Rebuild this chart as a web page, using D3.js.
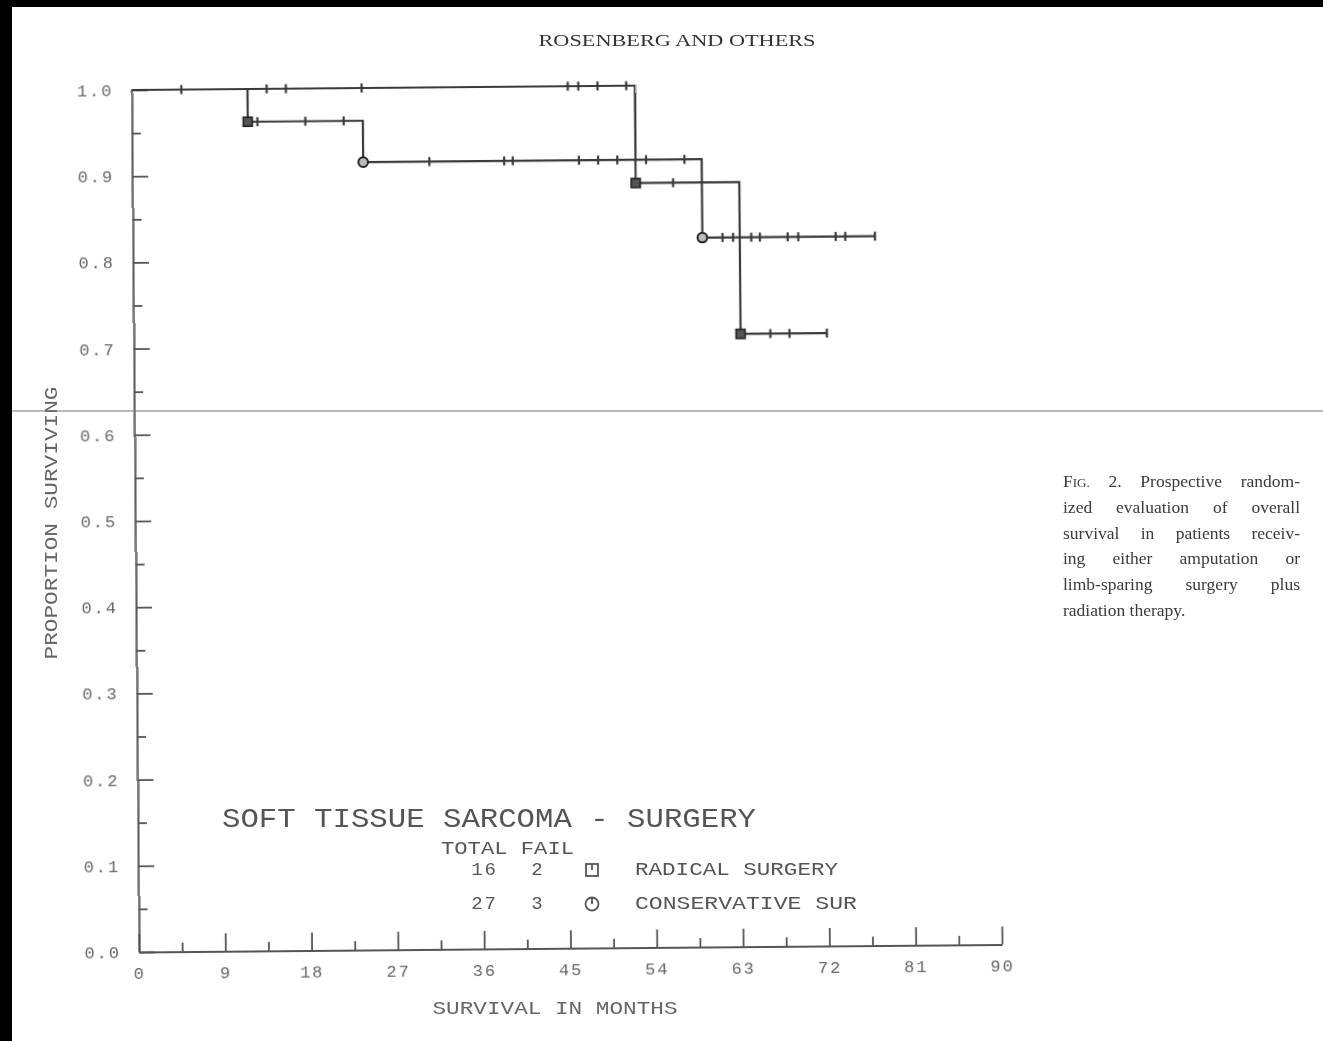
<!DOCTYPE html>
<html>
<head>
<meta charset="utf-8">
<script src="https://cdn.jsdelivr.net/npm/d3@7"></script>
<style>
  html, body { margin: 0; padding: 0; background: #fff; }
  svg { display: block; }
</style>
</head>
<body>
<svg id="fig" width="1323" height="1041"></svg>
<script>
// Overall survival, soft tissue sarcoma: radical vs conservative surgery (Kaplan-Meier)

const xTickMonths = [0, 9, 18, 27, 36, 45, 54, 63, 72, 81, 90];
const xMinorMonths = [4.5, 13.5, 22.5, 31.5, 40.5, 49.5, 58.5, 67.5, 76.5, 85.5];
const yTickValues = [0, 0.1, 0.2, 0.3, 0.4, 0.5, 0.6, 0.7, 0.8, 0.9, 1.0];
const yMinorValues = [0.05, 0.15, 0.25, 0.35, 0.45, 0.55, 0.65, 0.75, 0.85, 0.95];

// Radical surgery (16 patients, 2 failures)
const radicalEventMonths = [52.5, 63.3];
const radicalSurvival = [1.0, 0.887, 0.711];
const radicalLastMonth = 72.3;
const radicalCensoredMonths = [5.2, 14.1, 16.1, 24.0, 45.5, 46.6, 48.6, 51.6, 56.4, 66.4, 68.4, 72.3];

// Conservative surgery + radiation (27 patients, 3 failures)
const conservativeEventMonths = [12.1, 24.1, 59.4];
const conservativeSurvival = [1.0, 0.962, 0.914, 0.823];
const conservativeLastMonth = 77.4;
const conservativeCensoredMonths = [13.1, 18.1, 22.1, 31.0, 38.8, 39.7, 46.6, 48.6, 50.6, 53.6, 57.6,
  61.5, 62.6, 64.5, 65.4, 68.3, 69.4, 73.3, 74.3, 77.4];
const conservativeEventMarks = ["square", "circle", "circle"];

const chartTitle = "SOFT TISSUE SARCOMA - SURGERY";
const legendHeader = "TOTAL FAIL";
const legendTotals = [16, 27];
const legendFails = [2, 3];
const legendSymbols = ["square", "circle"];
const legendNames = ["RADICAL SURGERY", "CONSERVATIVE SUR"];
const xAxisTitle = "SURVIVAL IN MONTHS";
const yAxisTitle = "PROPORTION SURVIVING";

const pageHeader = "ROSENBERG AND OTHERS";
const captionLines = [
  "FIG. 2. Prospective random-",
  "ized evaluation of overall",
  "survival in patients receiv-",
  "ing either amputation or",
  "limb-sparing surgery plus",
  "radiation therapy."
];

// ---------------------------------------------------------------
const svg = d3.select("#fig");
const ink = "#3a3a3a";
const plotFont = "'Liberation Mono', 'DejaVu Sans Mono', monospace";
const serif = "'Liberation Serif', 'DejaVu Serif', serif";

svg.append("rect").attr("width", 1323).attr("height", 1041).attr("fill", "#fff");

const defs = svg.append("defs");
defs.append("filter").attr("id", "soft")
  .append("feGaussianBlur").attr("stdDeviation", 0.45);

const page = svg.append("g").attr("filter", "url(#soft)");

// plot area, slightly skewed on the page
const plot = page.append("g")
  .attr("transform", "rotate(-0.5,139,952) translate(139,90)");

const x = d3.scaleLinear().domain([0, 90]).range([0, 863]);
const y = d3.scaleLinear().domain([0, 1]).range([862, 0]);

function styleAxis(g) {
  g.select(".domain").attr("stroke", "#555").attr("stroke-width", 2);
  g.selectAll(".tick line").attr("stroke", "#555").attr("stroke-width", 1.8);
  g.selectAll(".tick text")
    .attr("fill", "#666")
    .style("font-family", plotFont)
    .style("font-size", "17px")
    .style("letter-spacing", "2px");
}

// x axis: major and minor ticks pointing up
plot.append("g")
  .attr("transform", `translate(0,${y(0)})`)
  .call(d3.axisBottom(x).tickValues(xTickMonths).tickSize(-18).tickSizeOuter(0)
    .tickPadding(15).tickFormat(d3.format("d")))
  .call(styleAxis);
plot.append("g")
  .attr("transform", `translate(0,${y(0)})`)
  .call(d3.axisBottom(x).tickValues(xMinorMonths).tickSize(-9).tickSizeOuter(0).tickFormat(""))
  .call(g => g.select(".domain").remove())
  .call(styleAxis);

// y axis: major and minor ticks pointing right
plot.append("g")
  .call(d3.axisLeft(y).tickValues(yTickValues).tickSize(-16).tickSizeOuter(0)
    .tickPadding(18).tickFormat(d3.format(".1f")))
  .call(styleAxis);
plot.append("g")
  .call(d3.axisLeft(y).tickValues(yMinorValues).tickSize(-9).tickSizeOuter(0).tickFormat(""))
  .call(g => g.select(".domain").remove())
  .call(styleAxis);

// step curves
function stepPoints(events, surv, last) {
  const pts = [[0, surv[0]]];
  events.forEach((t, i) => pts.push([t, surv[i + 1]]));
  pts.push([last, surv[surv.length - 1]]);
  return pts;
}
function survivalAt(events, surv, t) {
  return surv[d3.bisectRight(events, t)];
}
const line = d3.line().x(d => x(d[0])).y(d => y(d[1])).curve(d3.curveStepAfter);

const groups = [
  { events: radicalEventMonths, surv: radicalSurvival, last: radicalLastMonth,
    cens: radicalCensoredMonths, marks: radicalEventMonths.map(() => "square") },
  { events: conservativeEventMonths, surv: conservativeSurvival, last: conservativeLastMonth,
    cens: conservativeCensoredMonths, marks: conservativeEventMarks }
];

groups.forEach(gr => {
  plot.append("path")
    .datum(stepPoints(gr.events, gr.surv, gr.last))
    .attr("d", line)
    .attr("fill", "none")
    .attr("stroke", ink)
    .attr("stroke-width", 2.2);

  // censored observations
  plot.append("g").selectAll("line")
    .data(gr.cens)
    .join("line")
    .attr("x1", d => x(d)).attr("x2", d => x(d))
    .attr("y1", d => y(survivalAt(gr.events, gr.surv, d)) - 4.5)
    .attr("y2", d => y(survivalAt(gr.events, gr.surv, d)) + 4.5)
    .attr("stroke", ink).attr("stroke-width", 2.2);

  // failures
  const ev = gr.events.map((t, i) => ({ t, s: gr.surv[i + 1], m: gr.marks[i] }));
  const mk = plot.append("g");
  mk.selectAll("rect")
    .data(ev.filter(d => d.m === "square"))
    .join("rect")
    .attr("x", d => x(d.t) - 4.5).attr("y", d => y(d.s) - 4.5)
    .attr("width", 9).attr("height", 9)
    .attr("fill", "#555").attr("stroke", "#222").attr("stroke-width", 1.6);
  mk.selectAll("circle")
    .data(ev.filter(d => d.m === "circle"))
    .join("circle")
    .attr("cx", d => x(d.t)).attr("cy", d => y(d.s)).attr("r", 4.8)
    .attr("fill", "#bbb").attr("stroke", "#222").attr("stroke-width", 2);
});

// axis titles
page.append("text")
  .attr("x", 555).attr("y", 1009)
  .attr("text-anchor", "middle").attr("dominant-baseline", "middle")
  .attr("textLength", 245).attr("lengthAdjust", "spacingAndGlyphs")
  .attr("fill", "#666")
  .style("font-family", plotFont).style("font-size", "18px")
  .text(xAxisTitle);

page.append("text")
  .attr("transform", "translate(52,523) rotate(-90)")
  .attr("text-anchor", "middle").attr("dominant-baseline", "middle")
  .attr("textLength", 273).attr("lengthAdjust", "spacingAndGlyphs")
  .attr("fill", "#666")
  .style("font-family", plotFont).style("font-size", "18px")
  .text(yAxisTitle);

// legend block
const leg = page.append("g").attr("fill", "#555").style("font-family", plotFont);
leg.append("text")
  .attr("x", 222).attr("y", 820).attr("dominant-baseline", "middle")
  .attr("textLength", 534).attr("lengthAdjust", "spacingAndGlyphs")
  .style("font-size", "28px")
  .text(chartTitle);
leg.append("text")
  .attr("x", 441).attr("y", 849).attr("dominant-baseline", "middle")
  .attr("textLength", 133).attr("lengthAdjust", "spacingAndGlyphs")
  .style("font-size", "19px")
  .text(legendHeader);

const rowY = [870, 904];
legendNames.forEach((name, i) => {
  leg.append("text")
    .attr("x", 498).attr("y", rowY[i]).attr("text-anchor", "end")
    .attr("dominant-baseline", "middle")
    .style("font-size", "19px").style("letter-spacing", "2px")
    .text(legendTotals[i]);
  leg.append("text")
    .attr("x", 537).attr("y", rowY[i]).attr("text-anchor", "middle")
    .attr("dominant-baseline", "middle")
    .style("font-size", "19px")
    .text(legendFails[i]);
  const sym = leg.append("g").attr("transform", `translate(592,${rowY[i]})`)
    .attr("fill", "none").attr("stroke", "#555").attr("stroke-width", 1.8);
  if (legendSymbols[i] === "square") {
    sym.append("rect").attr("x", -6).attr("y", -6).attr("width", 12).attr("height", 12);
  } else {
    sym.append("circle").attr("r", 6.5);
  }
  sym.append("line").attr("x1", 0).attr("x2", 0).attr("y1", -6).attr("y2", 0);
  leg.append("text")
    .attr("x", 635).attr("y", rowY[i]).attr("dominant-baseline", "middle")
    .attr("textLength", i === 0 ? 203 : 222).attr("lengthAdjust", "spacingAndGlyphs")
    .style("font-size", "19px")
    .text(name);
});

// page furniture: running head, figure legend
page.append("text")
  .attr("x", 677).attr("y", 46).attr("text-anchor", "middle")
  .attr("textLength", 277).attr("lengthAdjust", "spacingAndGlyphs")
  .attr("fill", "#333")
  .style("font-family", serif).style("font-size", "17px")
  .text(pageHeader);

const capX = 1063, capW = 237, capTop = 487, capLead = 25.8;
captionLines.forEach((ln, i) => {
  const t = page.append("text")
    .attr("x", capX).attr("y", capTop + i * capLead)
    .attr("fill", "#3a3a3a")
    .style("font-family", serif).style("font-size", "17.5px");
  if (ln.startsWith("FIG.")) {
    t.append("tspan").text("F");
    t.append("tspan").style("font-size", "13px").text("IG.");
    t.append("tspan").text(ln.slice(4));
  } else {
    t.text(ln);
  }
  if (i < captionLines.length - 1) {
    const len = t.node().getComputedTextLength();
    const gaps = (ln.match(/ /g) || []).length;
    if (gaps > 0) t.attr("word-spacing", Math.max(0, (capW - len) / gaps));
  }
});

// scan artefacts: dark border and a faint fold line
svg.append("line")
  .attr("x1", 0).attr("x2", 1323).attr("y1", 411).attr("y2", 411)
  .attr("stroke", "#777").attr("stroke-width", 1.2);
svg.append("rect").attr("x", 0).attr("y", 0).attr("width", 1323).attr("height", 7).attr("fill", "#000");
svg.append("rect").attr("x", 0).attr("y", 0).attr("width", 12).attr("height", 1041).attr("fill", "#000");
</script>
</body>
</html>
